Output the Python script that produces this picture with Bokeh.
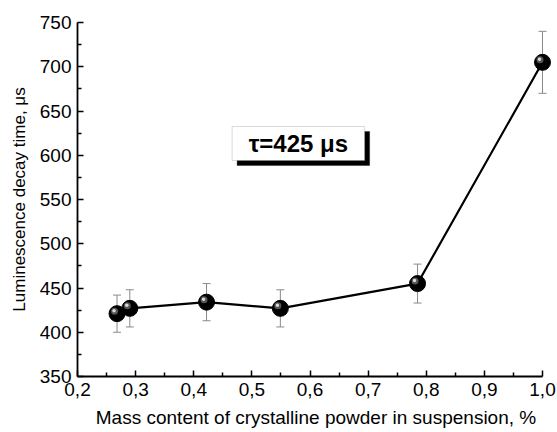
from bokeh.plotting import figure
from bokeh.models import ColumnDataSource, Whisker, FixedTicker, Label, BoxAnnotation
from bokeh.embed import file_html
from bokeh.resources import INLINE

mass = [0.268, 0.290, 0.422, 0.549, 0.785, 1.0]
decay = [421, 427, 434, 427, 455, 705]
err = [21, 21, 21, 21, 22, 35]
x_ticks = [0.2, 0.3, 0.4, 0.5, 0.6, 0.7, 0.8, 0.9, 1.0]
x_tick_labels = ["0,2", "0,3", "0,4", "0,5", "0,6", "0,7", "0,8", "0,9", "1,0"]
y_ticks = [350, 400, 450, 500, 550, 600, 650, 700, 750]
annotation_text = "τ=425 μs"

FONT = "Liberation Sans"
W, H = 557, 432
L, R, T, B = 77, 3, 22, 56
PX_PER_X = (542 - 77) / 0.8  # pixels per x unit

x_end = 1.0 + (W - R - 542) / PX_PER_X

p = figure(width=W, height=H, output_backend="svg", toolbar_location=None,
           x_range=(0.2, x_end), y_range=(350, 750),
           min_border_left=L, min_border_right=R, min_border_top=T, min_border_bottom=B)
p.outline_line_color = None
p.grid.visible = False
p.background_fill_color = "white"
p.border_fill_color = "white"

for ax in (p.xaxis[0], p.yaxis[0]):
    ax.axis_line_width = 1.8
    ax.axis_line_color = "black"
    ax.major_tick_in = 6
    ax.major_tick_out = 0
    ax.minor_tick_in = 4
    ax.minor_tick_out = 0
    ax.major_tick_line_width = 1.5
    ax.minor_tick_line_width = 1.5
    ax.major_label_text_font = FONT
    ax.major_label_text_font_size = "19px"
    ax.major_label_text_color = "black"
    ax.axis_label_text_font = FONT
    ax.axis_label_text_font_style = "normal"
    ax.axis_label_text_color = "black"

p.xaxis.bounds = (0.2, 1.0)
p.xaxis.ticker = FixedTicker(ticks=x_ticks, minor_ticks=[t + 0.05 for t in x_ticks[:-1]])
p.xaxis.major_label_overrides = {t: s for t, s in zip(x_ticks, x_tick_labels)}
p.yaxis.ticker = FixedTicker(ticks=y_ticks, minor_ticks=[t + 25 for t in y_ticks[:-1]])
p.xaxis.axis_label = "Mass content of crystalline powder in suspension, %"
p.yaxis.axis_label = "Luminescence decay time, μs"
p.xaxis.axis_label_text_font_size = "19px"
p.yaxis.axis_label_text_font_size = "17px"
p.xaxis.major_label_standoff = 6
p.yaxis.major_label_standoff = 6
p.xaxis.axis_label_standoff = 8
p.yaxis.axis_label_standoff = 8

src = ColumnDataSource(dict(x=mass, y=decay,
                            upper=[d + e for d, e in zip(decay, err)],
                            lower=[d - e for d, e in zip(decay, err)]))

w = Whisker(source=src, base="x", upper="upper", lower="lower",
            line_color="#8a8a8a", line_width=1)
w.upper_head.size = 8
w.lower_head.size = 8
w.upper_head.line_color = "#8a8a8a"
w.lower_head.line_color = "#8a8a8a"
p.add_layout(w)

p.line("x", "y", source=src, line_color="black", line_width=2.2)

# sphere-like markers
px_x = 1 / PX_PER_X
px_y = 400 / (H - T - B)
p.scatter("x", "y", source=src, size=16, fill_color="black", line_color="black")
hl_x = [m - 2.5 * px_x for m in mass]
hl_y = [d + 2.5 * px_y for d in decay]
p.scatter(hl_x, hl_y, size=7, fill_color="#555555", line_color=None)
hl2_x = [m - 3 * px_x for m in mass]
hl2_y = [d + 3 * px_y for d in decay]
p.scatter(hl2_x, hl2_y, size=3.5, fill_color="#d8d8d8", line_color=None)

# annotation box with shadow
bx0, bx1, by0, by1 = 0.466, 0.694, 594, 632.5
sx, sy = 5 * px_x, 5 * px_y
p.add_layout(BoxAnnotation(left=bx0 + sx, right=bx1 + sx, bottom=by0 - sy, top=by1 - sy,
                           fill_color="black", fill_alpha=1, line_color="black"))
p.add_layout(BoxAnnotation(left=bx0, right=bx1, bottom=by0, top=by1,
                           fill_color="white", fill_alpha=1, line_color="#888888", line_width=1))
p.add_layout(Label(x=(bx0 + bx1) / 2, y=(by0 + by1) / 2, text=annotation_text,
                   text_align="center", text_baseline="middle",
                   text_font=FONT, text_font_size="24px", text_font_style="bold",
                   text_color="black"))

open("out.html", "w").write(file_html(p, INLINE))
